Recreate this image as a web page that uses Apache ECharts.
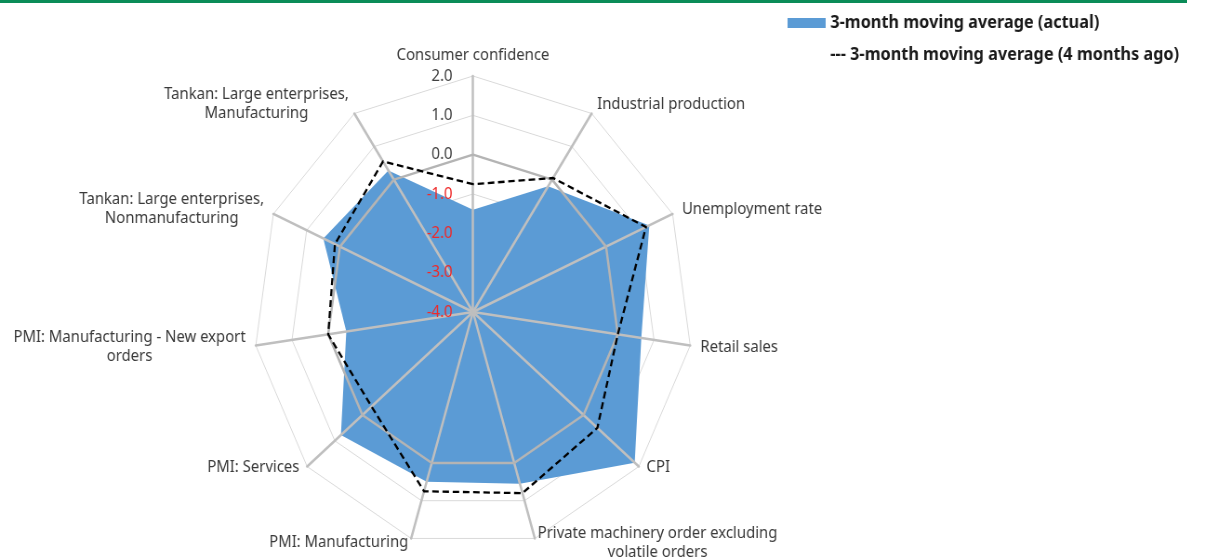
<!DOCTYPE html>
<html>
<head>
<meta charset="utf-8">
<script src="https://cdn.jsdelivr.net/npm/echarts@6/dist/echarts.min.js"></script>
<style>
  html, body { margin: 0; padding: 0; background: #ffffff; overflow: hidden; }
  #topline { position: absolute; left: 0; top: 0; width: 1187px; height: 3px; background: #0b8c58; }
  #chart { position: absolute; left: 0; top: 0; width: 1296px; height: 560px; transform: scaleX(0.92978); transform-origin: 0 0; }
</style>
</head>
<body>
<div id="topline"></div>
<div id="chart"></div>
<script>
// ---- data ----
const categories = [
  'Consumer confidence',
  'Industrial production',
  'Unemployment rate',
  'Retail sales',
  'CPI',
  'Private machinery order excluding\nvolatile orders',
  'PMI: Manufacturing',
  'PMI: Services',
  'PMI: Manufacturing - New export\norders',
  'Tankan: Large enterprises,\nNonmanufacturing',
  'Tankan: Large enterprises,\nManufacturing'
];
const actual = [-1.4, -0.2, 1.3, 0.65, 1.85, 0.55, 0.5, 0.78, -0.5, 0.5, 0.28];
const fourMonthsAgo = [-0.75, 0.05, 1.2, 0.0, 0.5, 0.8, 0.75, -0.33, 0.0, 0.15, 0.55];
const zeroLine = [0, 0, 0, 0, 0, 0, 0, 0, 0, 0, 0];
const seriesNames = ['3-month moving average (actual)', '3-month moving average (4 months ago)'];
const axisMin = -4, axisMax = 2, axisStep = 1;

// ECharts lays radar indicators out counter-clockwise; the reference runs clockwise.
const order = [0];
for (let i = categories.length - 1; i >= 1; i--) order.push(i);
const reorder = arr => order.map(i => arr[i]);

const indicator = reorder(categories).map(n => ({ name: n, min: axisMin, max: axisMax }));
const FONT = 'Noto Sans';
const CX = 508.7, CY = 312, R = 236;

// labels on the lower part of the radar sit a little higher in the reference
function isLower(name) {
  const i = categories.indexOf(name);
  const ang = i * 2 * Math.PI / categories.length;
  return Math.cos(ang) < -0.5;
}

const nameStyle = { align: 'center', fontFamily: FONT, fontSize: 16, color: '#3a3a3a', lineHeight: 19 };

const chart = echarts.init(document.getElementById('chart'), null, { renderer: 'canvas', width: 1296, height: 560 });
chart.setOption({
  animation: false,
  backgroundColor: 'transparent',
  textStyle: { fontFamily: FONT },
  legend: {
    orient: 'vertical',
    left: 842,
    top: 9,
    itemWidth: 41,
    itemHeight: 10,
    itemGap: 14,
    selectedMode: false,
    data: [
      { name: seriesNames[0], icon: 'rect' },
      { name: seriesNames[1], icon: 'none' }
    ],
    formatter: name => (name === seriesNames[1] ? '--- ' + name : name),
    textStyle: { fontFamily: FONT, fontSize: 17.5, fontWeight: 'bold', color: '#1a1a1a', lineHeight: 18 }
  },
  grid: { left: CX, top: CY - R, height: R, width: 10, containLabel: false },
  xAxis: { type: 'value', show: false, min: 0, max: 1 },
  yAxis: {
    type: 'value', min: axisMin, max: axisMax, interval: axisStep, position: 'left', z: 10,
    axisLine: { show: false }, axisTick: { show: false }, splitLine: { show: false },
    axisLabel: {
      margin: 22, fontFamily: FONT, fontSize: 16,
      formatter: v => Number(v).toFixed(1),
      color: v => (parseFloat(v) < 0 ? '#ee2a2a' : '#404040')
    }
  },
  radar: [
    {
      z: 0,
      center: [CX, CY], radius: R, startAngle: 90, shape: 'polygon', splitNumber: 6,
      indicator: indicator,
      axisName: { show: false },
      axisLine: { show: false },
      splitLine: { show: true, lineStyle: { color: '#d9d9d9', width: 1 } },
      splitArea: { show: false }
    },
    {
      z: 3,
      center: [CX, CY], radius: R, startAngle: 90, shape: 'polygon', splitNumber: 6,
      indicator: indicator,
      axisNameGap: 11,
      axisName: {
        show: true,
        formatter: name => {
          const body = name.split('\n').map(l => '{c|' + l + '}').join('\n');
          return isLower(name) ? body + '\n{e| }' : body;
        },
        rich: {
          c: nameStyle,
          e: { fontFamily: FONT, fontSize: 8, lineHeight: 13 }
        },
        fontFamily: FONT, fontSize: 16, color: '#3a3a3a'
      },
      axisLine: { show: true, lineStyle: { color: '#bfbfbf', width: 2.5 } },
      splitLine: { show: false },
      splitArea: { show: false }
    }
  ],
  series: [
    {
      type: 'radar', radarIndex: 0, z: 2, name: seriesNames[0], symbol: 'none',
      itemStyle: { color: '#5b9bd5' },
      lineStyle: { width: 0, color: '#5b9bd5' },
      areaStyle: { color: '#5b9bd5', opacity: 1 },
      data: [{ value: reorder(actual), name: seriesNames[0] }]
    },
    {
      type: 'radar', radarIndex: 0, z: 4, name: 'zero', symbol: 'none',
      itemStyle: { color: '#b4b4b4' },
      lineStyle: { width: 2.5, color: '#b4b4b4' },
      data: [{ value: reorder(zeroLine), name: 'zero' }]
    },
    {
      type: 'radar', radarIndex: 0, z: 5, name: seriesNames[1], symbol: 'none',
      itemStyle: { color: '#000000' },
      lineStyle: { width: 2.3, color: '#000000', type: [7, 4] },
      data: [{ value: reorder(fourMonthsAgo), name: seriesNames[1] }]
    }
  ]
});
</script>
</body>
</html>
